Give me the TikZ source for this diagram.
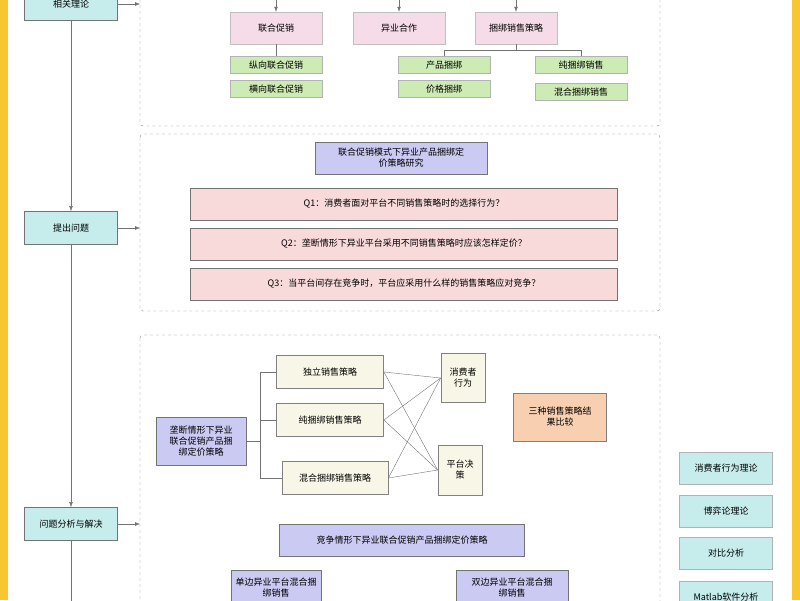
\documentclass[tikz,border=0pt]{standalone}
\usepackage{fontspec}
\setmainfont{Noto Sans CJK SC}
\usetikzlibrary{positioning,arrows.meta}
\definecolor{tealb}{HTML}{C6ECEC}
\definecolor{pinkb}{HTML}{F6DCE8}
\definecolor{greenb}{HTML}{CDEBB4}
\definecolor{lavend}{HTML}{CACAF2}
\definecolor{qpink}{HTML}{F8DADA}
\definecolor{cream}{HTML}{F8F6E6}
\definecolor{orangeb}{HTML}{F8CFB0}
\definecolor{frame}{HTML}{F8C630}

\begin{document}
\begin{tikzpicture}[x=1pt, y=-1pt,
        every node/.style={font=\fontsize{9}{11}\selectfont, align=center, inner sep=1pt},
        stage/.style={rectangle, draw=black!55, fill=tealb, thick, minimum width=93pt, minimum height=33pt},
        concept/.style={rectangle, draw=black!25, fill=pinkb, minimum width=92pt, minimum height=32pt},
        sub/.style={rectangle, draw=black!30, fill=greenb, minimum width=92pt, minimum height=17pt},
        topic/.style={rectangle, draw=black!55, fill=lavend, thick},
        question/.style={rectangle, draw=black!55, fill=qpink, thick, minimum width=427pt, minimum height=32pt},
        strategy/.style={rectangle, draw=black!50, fill=cream, thick, minimum height=33pt},
        method/.style={rectangle, draw=black!30, fill=tealb, thick, minimum width=93pt, minimum height=32pt},
        panel/.style={draw=black!50, dashed, rounded corners=3pt},
        link/.style={draw=black!55},
        flow/.style={draw=black!55, -{Latex[length=5pt]}},
    ]
    \useasboundingbox (0,0) rectangle (800,600);
    \clip (0,0) rectangle (800,600);
    \fill[frame] (0,0) rectangle (8,600);
    \fill[frame] (792,0) rectangle (800,600);

    % dashed panels
    \draw[panel] (140,-10) rectangle (660,126);
    \draw[panel] (140,134) rectangle (660,311);
    \draw[panel] (140,335) rectangle (660,620);

    % left column
    \node[stage] (theory) at (71,4) {相关理论};
    \node[stage] (problem) at (71,228) {提出问题};
    \node[stage] (solve) at (71,524) {问题分析与解决};
    \coordinate (bottom) at (71,610);
    \path[flow] (theory) -- (problem);
    \path[flow] (problem) -- (solve);
    \path[link] (solve) -- (bottom);
    \coordinate (p1) at (140,4);
    \coordinate (p2) at (140,228);
    \coordinate (p3) at (140,524);
    \path[flow] (theory) -- (p1);
    \path[flow] (problem) -- (p2);
    \path[flow] (solve) -- (p3);

    % theory panel
    \node[concept] (promo) at (276,28) {联合促销};
    \node[concept] (coop) at (399,28) {异业合作};
    \node[concept, minimum width=82pt] (bundle) at (516,28) {捆绑销售策略};
    \foreach \n/\x in {promo/276,coop/399,bundle/516} {
        \coordinate (\n top) at (\x,-10);
        \path[flow] (\n top) -- (\n);
    }
    \node[sub] (vert) at (276,65) {纵向联合促销};
    \node[sub] (horiz) at (276,89) {横向联合促销};
    \node[sub] (prodB) at (444,65) {产品捆绑};
    \node[sub] (priceB) at (444,89) {价格捆绑};
    \node[sub] (pureB) at (581,65) {纯捆绑销售};
    \node[sub] (mixB) at (581,92) {混合捆绑销售};
    \path[link] (promo) -- (vert);
    \path[link, thick] (bundle.south) -- ++(0,6) -| (prodB.north);
    \path[link, thick] (bundle.south) -- ++(0,6) -| (pureB.north);

    % question panel
    \node[topic, text width=170pt, minimum height=32pt] (study) at (401,158) {联合促销模式下异业产品捆绑定\\价策略研究};
    \node[question] (q1) at (404,204) {Q1：消费者面对平台不同销售策略时的选择行为？};
    \node[question] (q2) at (404,244) {Q2：垄断情形下异业平台采用不同销售策略时应该怎样定价？};
    \node[question] (q3) at (404,284) {Q3：当平台间存在竞争时，平台应采用什么样的销售策略应对竞争？};

    % analysis panel
    \node[topic, text width=88pt, minimum height=48pt] (mono) at (201,441) {垄断情形下异业\\联合促销产品捆\\绑定价策略};
    \node[strategy, minimum width=107pt] (indep) at (330,372) {独立销售策略};
    \node[strategy, minimum width=107pt] (pure) at (330,420) {纯捆绑销售策略};
    \node[strategy, minimum width=106pt] (mixed) at (335,478) {混合捆绑销售策略};
    \node[strategy, minimum width=44pt, minimum height=49pt] (consumer) at (463,378) {消费者\\行为};
    \node[strategy, minimum width=44pt, minimum height=50pt] (platform) at (460,470) {平台决\\策};
    \node[rectangle, draw=black!50, fill=orangeb, thick, minimum width=93pt, minimum height=48pt] (compare) at (560,417) {三种销售策略结\\果比较};
    \coordinate (fork) at (260,441);
    \path[link, thick] (mono) -- (fork);
    \foreach \s in {indep,pure,mixed} {
        \path[link] (fork) |- (\s.west);
        \path[link] (\s.east) -- (consumer.west);
        \path[link] (\s.east) -- (platform.west);
    }
    \node[topic, minimum width=245pt, minimum height=32pt] (compete) at (402,540) {竞争情形下异业联合促销产品捆绑定价策略};
    \node[topic, text width=88pt, minimum height=34pt, anchor=north] (single) at (276,570) {单边异业平台混合捆\\绑销售};
    \node[topic, text width=110pt, minimum height=34pt, anchor=north] (double) at (512,570) {双边异业平台混合捆\\绑销售};

    % methods
    \node[method] (mConsumer) at (726,468) {消费者行为理论};
    \node[method] (mGame) at (726,511) {博弈论理论};
    \node[method] (mCompare) at (726,553) {对比分析};
    \node[method] (mMatlab) at (726,597) {Matlab软件分析};
\end{tikzpicture}
\end{document}
